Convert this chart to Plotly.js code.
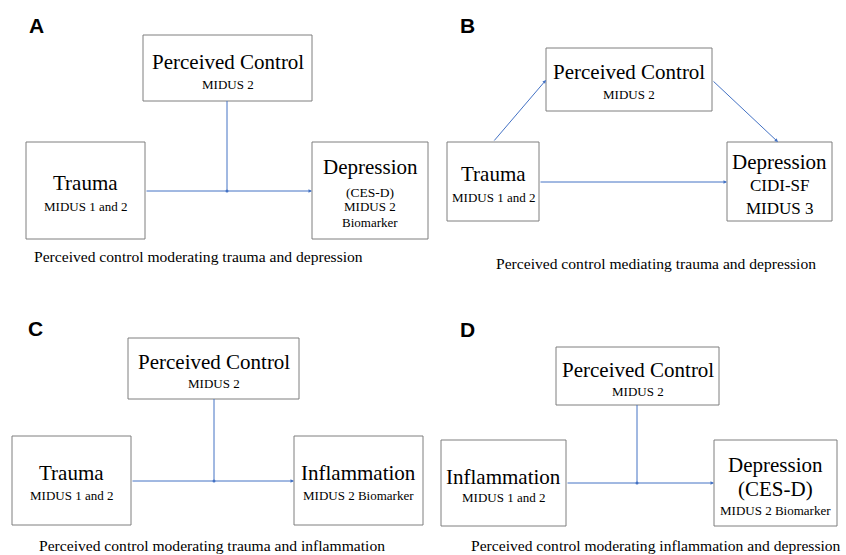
<!DOCTYPE html>
<html>
<head>
<meta charset="utf-8">
<script src="https://cdn.plot.ly/plotly-3.0.1.min.js"></script>
<style>html,body{margin:0;padding:0;background:#fff;}#chart{width:846px;height:555px;}</style>
</head>
<body>
<div id="chart"></div>
<script>
// ---- data (text content) ----
const panelLetters = ['A', 'B', 'C', 'D'];
const captions = [
  'Perceived control moderating trauma and depression',
  'Perceived control mediating trauma and depression',
  'Perceived control moderating trauma and inflammation',
  'Perceived control moderating inflammation and depression'
];
const moderatorTitles = ['Perceived Control', 'Perceived Control', 'Perceived Control', 'Perceived Control'];
const moderatorSubs = ['MIDUS 2', 'MIDUS 2', 'MIDUS 2', 'MIDUS 2'];
const predictorTitles = ['Trauma', 'Trauma', 'Trauma', 'Inflammation'];
const predictorSubs = ['MIDUS 1 and 2', 'MIDUS 1 and 2', 'MIDUS 1 and 2', 'MIDUS 1 and 2'];
const outcomeTitles = ['Depression', 'Depression', 'Inflammation', 'Depression'];
const outcomeSubs = [
  ['(CES-D)', 'MIDUS 2', 'Biomarker'],
  ['CIDI-SF', 'MIDUS 3'],
  ['MIDUS 2 Biomarker'],
  ['(CES-D)', 'MIDUS 2 Biomarker']
];
const modelTypes = ['moderation', 'mediation', 'moderation', 'moderation'];

// ---- geometry / style (layout only) ----
const geom = [
  { letter: [36, 25], caption: [198, 256],
    mod: [143, 35, 312, 101], modY: [62, 84],
    pred: [26, 142, 145, 239], predY: [183, 206],
    out: [312, 142, 428, 239], outY: [167, 192, 206, 222], outSz: [13.5, 13, 13],
    junction: [227, 191] },
  { letter: [467, 25], caption: [656, 263],
    mod: [546, 48, 712, 111], modY: [72, 94],
    pred: [447, 142, 539, 221], predY: [174, 197],
    out: [727, 142, 832, 221], outY: [162, 185, 208], outSz: [17, 17],
    mediation: { a: [493, 142, 546, 80], b: [712, 80, 778, 142], c: [539, 182, 727, 182] } },
  { letter: [35, 328], caption: [212, 545],
    mod: [128, 338, 299, 399], modY: [362, 383],
    pred: [12, 436, 131, 525], predY: [473, 495],
    out: [294, 436, 423, 525], outY: [473, 495], outSz: [13],
    junction: [214, 481] },
  { letter: [467, 329], caption: [656, 545],
    mod: [556, 347, 719, 405], modY: [370, 391],
    pred: [441, 440, 566, 526], predY: [477, 497],
    out: [714, 440, 837, 526], outY: [465, 489, 510], outSz: [21, 13],
    junction: [637, 483] }
];

const SERIF = '"Liberation Serif", "Times New Roman", serif';
const SANS = '"Liberation Sans", Arial, sans-serif';
const BOX = '#7f7f7f';
const BLUE = '#4472C4';
const BIG = 21, SMALL = 13, CAP = 15.6;

const shapes = [];
const annotations = [];
const dotX = [], dotY = [];

function txt(x, y, text, size, family, bold) {
  annotations.push({
    x: x, y: y, xref: 'x', yref: 'y', text: bold ? '<b>' + text + '</b>' : text,
    showarrow: false, xanchor: 'center', yanchor: 'middle', borderpad: 0,
    font: { family: family || SERIF, size: size, color: '#000' }
  });
}
function box(r) {
  shapes.push({ type: 'rect', xref: 'x', yref: 'y', x0: r[0], y0: r[1], x1: r[2], y1: r[3],
    line: { color: BOX, width: 1 }, fillcolor: 'rgba(0,0,0,0)' });
}
function seg(x0, y0, x1, y1) {
  shapes.push({ type: 'line', xref: 'x', yref: 'y', x0: x0, y0: y0, x1: x1, y1: y1,
    line: { color: BLUE, width: 1 } });
}
function arrow(x0, y0, x1, y1) {
  annotations.push({ x: x1, y: y1, ax: x0, ay: y0, xref: 'x', yref: 'y', axref: 'x', ayref: 'y',
    text: '', showarrow: true, arrowhead: 2, arrowsize: 0.7, arrowwidth: 1, arrowcolor: BLUE,
    standoff: 0, startstandoff: 0 });
}
const cx = r => (r[0] + r[2]) / 2;

for (let i = 0; i < 4; i++) {
  const g = geom[i];
  txt(g.letter[0], g.letter[1], panelLetters[i], 21, SANS, true);
  txt(g.caption[0], g.caption[1], captions[i], CAP);
  box(g.mod); box(g.pred); box(g.out);
  txt(cx(g.mod), g.modY[0], moderatorTitles[i], BIG);
  txt(cx(g.mod), g.modY[1], moderatorSubs[i], SMALL);
  txt(cx(g.pred), g.predY[0], predictorTitles[i], BIG);
  txt(cx(g.pred), g.predY[1], predictorSubs[i], SMALL);
  txt(cx(g.out), g.outY[0], outcomeTitles[i], BIG);
  outcomeSubs[i].forEach((s, k) => txt(cx(g.out), g.outY[k + 1], s, g.outSz[k]));
  if (modelTypes[i] === 'moderation') {
    const j = g.junction;
    seg(j[0], g.mod[3], j[0], j[1]);
    arrow(g.pred[2], j[1], g.out[0], j[1]);
    dotX.push(j[0]); dotY.push(j[1]);
  } else {
    const m = g.mediation;
    arrow(m.a[0], m.a[1], m.a[2], m.a[3]);
    arrow(m.b[0], m.b[1], m.b[2], m.b[3]);
    arrow(m.c[0], m.c[1], m.c[2], m.c[3]);
  }
}

const data = [{
  type: 'scatter', mode: 'markers', x: dotX, y: dotY,
  marker: { size: 3, color: BLUE }, hoverinfo: 'skip', showlegend: false
}];

const layout = {
  width: 846, height: 555,
  margin: { l: 0, r: 0, t: 0, b: 0 },
  paper_bgcolor: '#fff', plot_bgcolor: '#fff',
  xaxis: { range: [0, 846], visible: false, fixedrange: true },
  yaxis: { range: [555, 0], visible: false, fixedrange: true },
  showlegend: false,
  shapes: shapes,
  annotations: annotations
};

Plotly.newPlot('chart', data, layout, { staticPlot: true, displayModeBar: false });
</script>
</body>
</html>
